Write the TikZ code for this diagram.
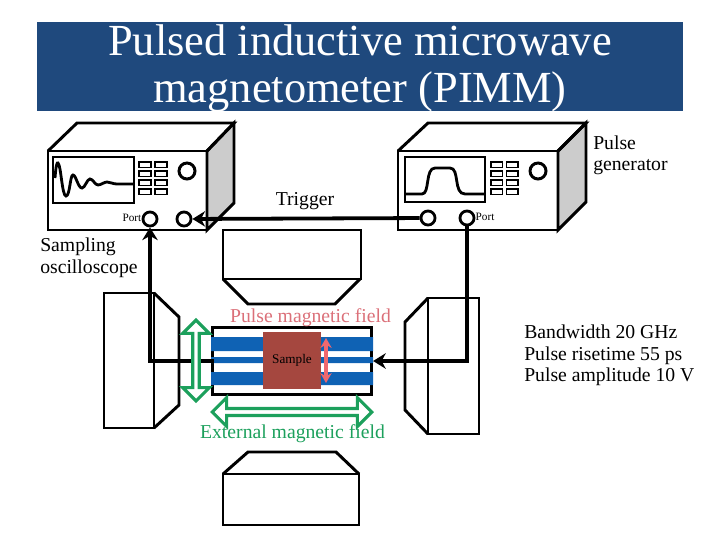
\documentclass[tikz,border=0pt]{standalone}
\usepackage{fontspec}
\setmainfont{Liberation Serif}
\usetikzlibrary{shapes.arrows,arrows.meta,positioning}

\definecolor{banner}{HTML}{1F497D}
\definecolor{stripe}{HTML}{0F62B4}
\definecolor{samplered}{HTML}{A5473F}
\definecolor{pulsered}{HTML}{F0686E}
\definecolor{pulsetext}{HTML}{DB7079}
\definecolor{fieldgreen}{HTML}{1CA05C}

% one key block of an instrument: two columns, four rows
\newcommand{\keypad}[2]{
    \foreach \row in {162,171,180,189}
        \draw[keyline] (#1,\row) rectangle ++(#2,5.5) (#1+#2+4,\row) rectangle ++(#2,5.5);
}

\begin{document}
\begin{tikzpicture}[
    x=0.025cm, y=-0.025cm,
    keyline/.style={draw=black, line width=1.4pt},
    body/.style={draw=black, line width=2.1pt, line join=miter},
    port/.style={circle, draw=black, fill=white, line width=2pt, minimum size=10pt, inner sep=0pt},
    wire/.style={draw=black, line width=2.7pt},
    wirearrow/.style={wire, -{Stealth[length=9pt, width=11pt]}},
    label/.style={font=\fontsize{14}{15.3}\selectfont, align=left, inner sep=0pt},
    portlabel/.style={font=\fontsize{8}{10}\selectfont, inner sep=0pt},
    field/.style={double arrow, draw=fieldgreen, fill=white, line width=2.2pt, inner sep=0pt, double arrow head extend=3.4pt}
]
    \useasboundingbox (0,0) rectangle (720,540);

    \node[fill=banner, minimum width=459pt, minimum height=63pt, inner sep=0pt] (banner) at (360,66.5) {};
    \node[text=white, align=center, font=\fontsize{31.6}{34}\selectfont, yshift=-1.3pt] (title) at (banner) {Pulsed inductive microwave\\magnetometer (PIMM)};

    % oscilloscope
    \draw[body, fill=black!20] (207,151) -- (234,123) -- (234,203) -- (207,230) -- cycle;
    \draw[body] (48,151) -- (77,123) -- (234,123) -- (207,151);
    \draw[body] (48,151) rectangle (207,230);
    \draw[body] (53,157) rectangle (134,203);
    \draw[line width=2pt] (55,178) .. controls (56,165) and (57,162) .. (58,163) .. controls (61,165) and (62,196) .. (66,196)
        .. controls (70,196) and (70,175) .. (73,175) .. controls (76,175) and (78,188) .. (82,188) .. controls (85,188) and (87,179) .. (90,179)
        .. controls (93,179) and (95,185) .. (98,185) .. controls (101,185) and (104,182) .. (107,182) .. controls (110,182) and (113,184) .. (117,184) -- (133,184);
    \keypad{139}{12}
    \draw[body] (187,171) circle (8);
    \node[port] (scopeport) at (150,219) {};
    \node[port] (triggerin) at (184,219) {};
    \node[portlabel, left=0pt of scopeport, yshift=1pt] (scopetext) {Port};

    % pulse generator
    \draw[body, fill=black!20] (558,151) -- (586,123) -- (586,202) -- (558,230) -- cycle;
    \draw[body] (398,151) -- (428,123) -- (586,123) -- (558,151);
    \draw[body] (398,151) rectangle (558,230);
    \draw[body] (405,157) rectangle (485,202);
    \draw[line width=2pt] (405,194) -- (422,194) .. controls (430,194) and (425,168) .. (435,168) -- (450,168)
        .. controls (460,168) and (453,194) .. (465,194) -- (485,194);
    \keypad{491}{11.5}
    \draw[body] (538,171) circle (8);
    \node[port] (triggerout) at (428,218) {};
    \node[port] (genport) at (467,218) {};
    \node[portlabel, right=0pt of genport, yshift=1pt] (gentext) {Port};

    % magnets
    \draw[body] (223,230) rectangle (361,279);
    \draw[body] (223,279) -- (248,304) -- (335,304) -- (360,279);
    \draw[body] (223,474) rectangle (359,525);
    \draw[body] (223,474) -- (248,452) -- (336,452) -- (359,474);
    \draw[body] (104,293) rectangle (154,428);
    \draw[body] (154,293) -- (179,317) -- (179,405) -- (154,428);
    \draw[body] (428,298) rectangle (479,434);
    \draw[body] (428,298) -- (405,322) -- (405,410) -- (428,434);

    % sample holder with its strip lines
    \node[draw=black, line width=2.3pt, minimum width=113pt, minimum height=48pt, inner sep=0pt] (holder) at (292,361) {};
    \fill[stripe] (211,337) rectangle (373,351) (211,357) rectangle (373,363) (211,372) rectangle (373,385);
    \node[fill=samplered, minimum width=41pt, minimum height=40.5pt, inner sep=0pt, font=\fontsize{9.4}{11}\selectfont] (sample) at (292,360.5) {Sample};

    % connections
    \draw[wirearrow] (triggerout) -- (triggerin);
    \draw[wirearrow] ([xshift=2pt]holder.west) -| (scopeport);
    \draw[wirearrow] (genport) |- (holder.east);

    \node[field, rotate=90, minimum height=57.5pt, minimum width=19pt] (pulsearrow) at (196,360.5) {};
    \node[field, minimum height=113.5pt, minimum width=20.5pt] (extarrow) at (292,412) {};
    \draw[draw=pulsered, line width=2.6pt, {Stealth[length=7pt, width=8pt]}-{Stealth[length=7pt, width=8pt]}] (326,338) -- (326,383);

    % texts
    \node[label, text=pulsetext, anchor=center] (pulselabel) at (310.5,318) {Pulse magnetic field};
    \node[label, text=fieldgreen, anchor=center] (extlabel) at (292.5,434) {External magnetic field};
    \node[label, anchor=center] (triggerlabel) at (305,201.5) {Trigger};
    \node[label, anchor=west] (genlabel) at (593,155.5) {Pulse\\generator};
    \node[label, anchor=west] (scopelabel) at (40,258) {Sampling\\oscilloscope};
    \node[label, anchor=west] (specs) at (524,355.5) {Bandwidth 20 GHz\\Pulse risetime 55 ps\\Pulse amplitude 10 V};
\end{tikzpicture}
\end{document}
